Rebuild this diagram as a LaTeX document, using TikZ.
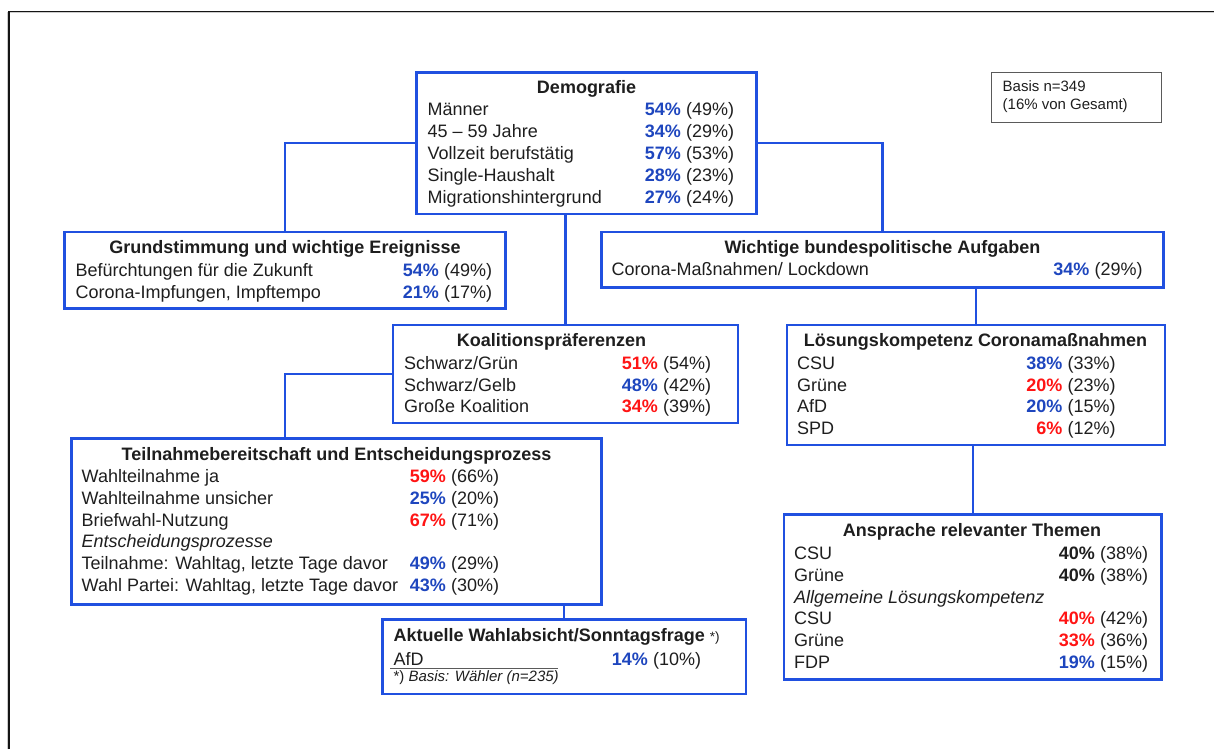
\documentclass[tikz,border=0pt]{standalone}
\usepackage{fontspec}
\setmainfont{Liberation Sans}
\definecolor{boxblue}{RGB}{32,80,224}
\definecolor{numblue}{RGB}{30,70,190}
\definecolor{numred}{RGB}{255,20,20}
\definecolor{txtgray}{RGB}{30,30,30}
\definecolor{framec}{RGB}{20,20,20}
\definecolor{basisc}{RGB}{90,90,90}
\tikzset{
  box/.style={draw=boxblue, line width=2.4pt, inner sep=0pt, outer sep=0pt, anchor=north west},
  basisbox/.style={draw=basisc, line width=1.3pt, inner sep=0pt, outer sep=0pt, anchor=north west},
  conn/.style={draw=boxblue, line width=2.2pt},
  txt/.style={inner sep=0pt, text=txtgray, font=\fontsize{18}{21}\selectfont, anchor=base west},
  ttl/.style={txt, font=\fontsize{18}{21}\selectfont\bfseries, anchor=base},
  pct/.style={txt, font=\fontsize{18}{21}\selectfont\bfseries, anchor=base east},
  itl/.style={txt, font=\fontsize{18}{21}\selectfont\itshape},
  small/.style={txt, font=\fontsize{15}{18}\selectfont},
  foot/.style={txt, font=\fontsize{15}{17}\selectfont},
  rulec/.style={draw=basisc, line width=1pt},
}
\newcommand\datarow[8]{%
  \node[txt] (#1l) at (#3,#2) {#4};
  \node[pct,text=#6] (#1p) at (#5,#2) {#7};
  \node[txt] (#1q) at ({#5+5},#2) {#8};}
\begin{document}
\begin{tikzpicture}[x=1pt,y=-1pt]
\useasboundingbox (0,0) rectangle (1214,749);
% outer frame
\coordinate (fbl) at (9,749);
\coordinate (ftl) at (9,11.5);
\coordinate (ftr) at (1214,11.5);
\draw[black!20, line width=1pt] ([xshift=-1.5pt]fbl) -- ([xshift=-1.5pt,yshift=-1.5pt]ftl) -- ([yshift=-1.5pt]ftr);
\draw[framec, line width=1.5pt] (fbl) -- (ftl) -- (ftr);

% boxes
\node[box, minimum width=340pt, minimum height=141.5pt] (demo) at (416.5,72.5) {};
\node[basisbox, minimum width=170pt, minimum height=50pt] (basis) at (991.5,72.5) {};
\node[box, minimum width=441pt, minimum height=76.5pt] (grund) at (64.5,232) {};
\node[box, minimum width=562pt, minimum height=55.5pt] (wicht) at (601.5,232) {};
\node[box, minimum width=345pt, minimum height=98pt] (koal) at (393,325) {};
\node[box, minimum width=378pt, minimum height=120pt] (loes) at (787,325) {};
\node[box, minimum width=530pt, minimum height=166pt] (teil) at (71.5,438.5) {};
\node[box, minimum width=363.5pt, minimum height=74.5pt] (akt) at (382.5,619.5) {};
\node[box, minimum width=377.5pt, minimum height=165pt] (ansp) at (784,514.5) {};

% connectors
\draw[conn] (demo.west) -| (grund.north);
\draw[conn] (demo.east) -| (wicht.north);
\draw[conn] (koal.north) -- (koal.north |- demo.south);
\draw[conn] (loes.north) -- (loes.north |- wicht.south);
\draw[conn] (koal.west) -| (teil.north -| grund.north);
\draw[conn] (ansp.north) -- (ansp.north |- loes.south);
\draw[conn] (akt.north) -- (akt.north |- teil.south);

% Demografie
\node[ttl] (demot) at (586.5,93.5) {Demografie};
\datarow{d1}{116}{427.5}{Männer}{681}{numblue}{54\%}{(49\%)}
\datarow{d2}{137.8}{427.5}{45 – 59 Jahre}{681}{numblue}{34\%}{(29\%)}
\datarow{d3}{159.6}{427.5}{Vollzeit berufstätig}{681}{numblue}{57\%}{(53\%)}
\datarow{d4}{181.4}{427.5}{Single-Haushalt}{681}{numblue}{28\%}{(23\%)}
\datarow{d5}{203.2}{427.5}{Migrationshintergrund}{681}{numblue}{27\%}{(24\%)}

% Basis
\node[small] (b1) at (1002.5,91.7) {Basis n=349};
\node[small] (b2) at (1002.5,110) {(16\% von Gesamt)};

% Grundstimmung
\node[ttl] (grundt) at (285,253.3) {Grundstimmung und wichtige Ereignisse};
\datarow{g1}{276}{75.5}{Befürchtungen für die Zukunft}{439}{numblue}{54\%}{(49\%)}
\datarow{g2}{298}{75.5}{Corona-Impfungen, Impftempo}{439}{numblue}{21\%}{(17\%)}

% Wichtige bundespolitische Aufgaben
\node[ttl] (wichtt) at (882.5,253.3) {Wichtige bundespolitische Aufgaben};
\datarow{w1}{275}{611.5}{Corona-Maßnahmen/ Lockdown}{1089.5}{numblue}{34\%}{(29\%)}

% Koalitionspraeferenzen
\node[ttl] (koalt) at (551.5,346.7) {Koalitionspräferenzen};
\datarow{k1}{369.3}{404}{Schwarz/Grün}{658}{numred}{51\%}{(54\%)}
\datarow{k2}{391.1}{404}{Schwarz/Gelb}{658}{numblue}{48\%}{(42\%)}
\datarow{k3}{412.9}{404}{Große Koalition}{658}{numred}{34\%}{(39\%)}

% Loesungskompetenz
\node[ttl] (loest) at (975.5,346.7) {Lösungskompetenz Coronamaßnahmen};
\datarow{l1}{369.3}{797}{CSU}{1062.5}{numblue}{38\%}{(33\%)}
\datarow{l2}{391.1}{797}{Grüne}{1062.5}{numred}{20\%}{(23\%)}
\datarow{l3}{412.9}{797}{AfD}{1062.5}{numblue}{20\%}{(15\%)}
\datarow{l4}{434.7}{797}{SPD}{1062.5}{numred}{6\%}{(12\%)}

% Teilnahmebereitschaft
\node[ttl] (teilt) at (336.5,460) {Teilnahmebereitschaft und Entscheidungsprozess};
\datarow{t1}{482.5}{81.5}{Wahlteilnahme ja}{446}{numred}{59\%}{(66\%)}
\datarow{t2}{504.3}{81.5}{Wahlteilnahme unsicher}{446}{numblue}{25\%}{(20\%)}
\datarow{t3}{526.1}{81.5}{Briefwahl-Nutzung}{446}{numred}{67\%}{(71\%)}
\node[itl] (t4) at (81.5,547.9) {Entscheidungsprozesse};
\datarow{t5}{569.7}{81.5}{Teilnahme: Wahltag, letzte Tage davor}{446}{numblue}{49\%}{(29\%)}
\datarow{t6}{591.5}{81.5}{Wahl Partei: Wahltag, letzte Tage davor}{446}{numblue}{43\%}{(30\%)}

% Aktuelle Wahlabsicht
\node[txt] (aktt) at (393.3,641.7) {\bfseries Aktuelle Wahlabsicht/Sonntagsfrage {\mdseries\fontsize{13.5}{15}\selectfont *)}};
\datarow{a1}{665}{393.3}{AfD}{648}{numblue}{14\%}{(10\%)}
\coordinate (rl) at (390,668);
\coordinate (rr) at (557.7,668);
\draw[rulec] (rl) -- (rr);
\node[foot] (afoot) at (393.3,681.7) {*) \itshape Basis: Wähler (n=235)};

% Ansprache relevanter Themen
\node[ttl] (anspt) at (972,536.7) {Ansprache relevanter Themen};
\datarow{s1}{559.5}{794}{CSU}{1095}{txtgray}{40\%}{(38\%)}
\datarow{s2}{581.3}{794}{Grüne}{1095}{txtgray}{40\%}{(38\%)}
\node[itl] (s3) at (794,603.1) {Allgemeine Lösungskompetenz};
\datarow{s4}{624.9}{794}{CSU}{1095}{numred}{40\%}{(42\%)}
\datarow{s5}{646.7}{794}{Grüne}{1095}{numred}{33\%}{(36\%)}
\datarow{s6}{668.5}{794}{FDP}{1095}{numblue}{19\%}{(15\%)}
\end{tikzpicture}
\end{document}
